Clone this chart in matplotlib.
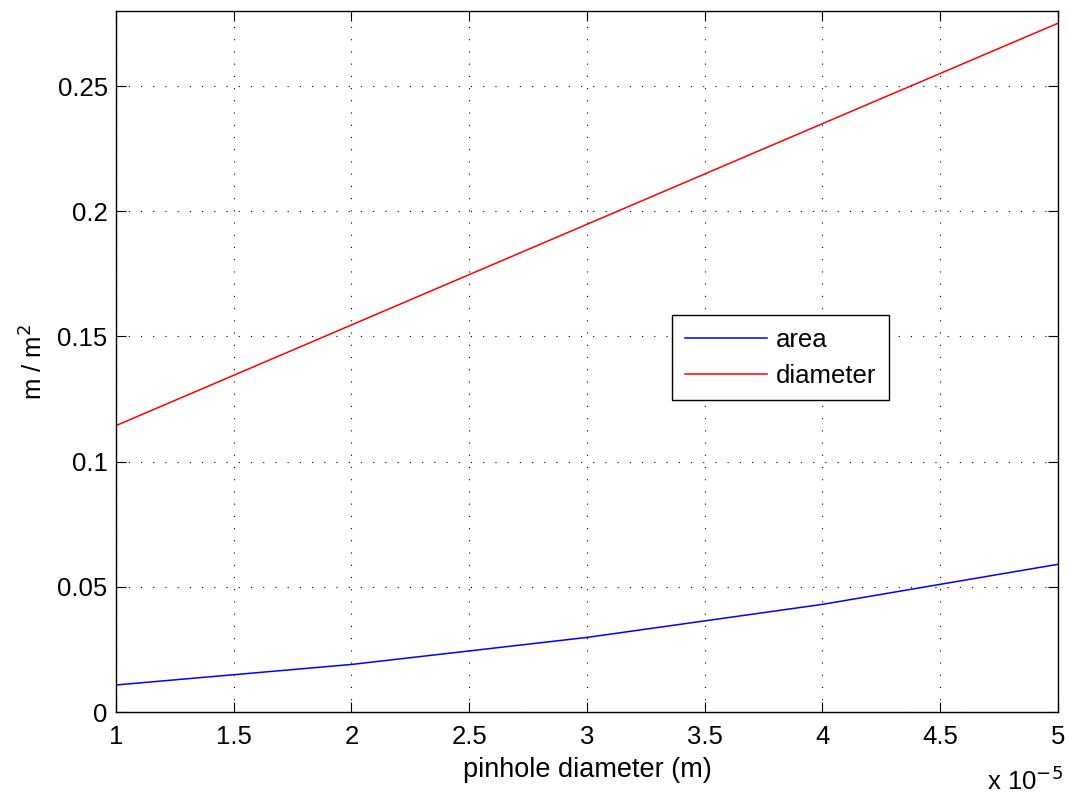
import numpy as np
import matplotlib.pyplot as plt
from matplotlib.ticker import FuncFormatter, MultipleLocator

plt.rcParams['font.family'] = ['Liberation Sans', 'DejaVu Sans']

# pinhole diameters (m) and the two curves
pinhole_d = [1e-5, 2e-5, 3e-5, 4e-5, 5e-5]
area = [0.0108, 0.0190, 0.0298, 0.0430, 0.0590]
diameter = [0.1144, 0.1546, 0.1948, 0.2350, 0.2751]


def main():
    fs = 18.5
    fig = plt.figure(figsize=(10.68, 7.96), dpi=100)
    ax = fig.add_axes([0.1086, 0.1055, 0.882, 0.8807])

    ax.plot(pinhole_d, area, color='#0000ff', lw=1.1, label='area')
    ax.plot(pinhole_d, diameter, color='#ff0000', lw=1.1, label='diameter')

    ax.set_xlim(1e-5, 5e-5)
    ax.set_ylim(0, 0.28)
    ax.xaxis.set_major_locator(MultipleLocator(0.5e-5))
    ax.yaxis.set_major_locator(MultipleLocator(0.05))
    ax.xaxis.set_major_formatter(FuncFormatter(lambda v, p: f'{v * 1e5:g}'))
    ax.yaxis.set_major_formatter(FuncFormatter(lambda v, p: f'{v:g}'))

    ax.grid(True, color='black', linestyle=(0, (1, 10)), linewidth=0.8)
    ax.tick_params(direction='in', top=True, right=True, length=7, width=0.8,
                   labelsize=fs, pad=6)
    ax.tick_params(axis='x', pad=9)
    for s in ax.spines.values():
        s.set_linewidth(1.0)

    ax.set_xlabel('pinhole diameter (m)', fontsize=19.5)
    ax.xaxis.set_label_coords(0.5, -0.064)
    ax.set_ylabel('m / m$^2$', fontsize=fs)
    ax.yaxis.set_label_coords(-0.073, 0.5)
    ax.text(1.005, -0.078, 'x 10$^{-5}$', transform=ax.transAxes,
            ha='right', va='top', fontsize=fs)

    leg = ax.legend(loc='upper left', bbox_to_anchor=(0.590, 0.566),
                    fontsize=fs, fancybox=False, framealpha=1,
                    edgecolor='black', borderpad=0.5, handlelength=3.2,
                    handletextpad=0.35, labelspacing=0.45, borderaxespad=0)
    leg.get_frame().set_linewidth(1.0)

    fig.savefig('out.png', dpi=100)


if __name__ == '__main__':
    main()
